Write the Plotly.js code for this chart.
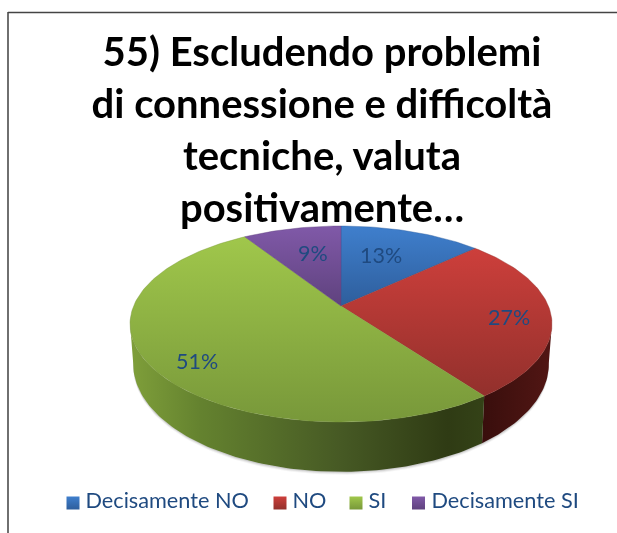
<!DOCTYPE html>
<html>
<head>
<meta charset="utf-8">
<script src="https://cdn.plot.ly/plotly-3.0.1.min.js"></script>
<style>html,body{margin:0;padding:0;background:#fff;overflow:hidden}#chart{width:617px;height:533px;filter:blur(0.4px)}</style>
</head>
<body>
<div id="chart"></div>
<script>
// ---- chart data ----
const categories = ["Decisamente NO", "NO", "SI", "Decisamente SI"];
const percentages = [13, 27, 51, 9];
const titleLines = ["55) Escludendo problemi", "di connessione e difficoltà", "tecniche, valuta", "positivamente…"];

// ---- styles ----
const topColors = [["#3f7fcd","#2e5e9c"],["#cd3f3b","#92302c"],["#a0c74b","#78983a"],["#8059a8","#5f427e"]];
const textColor = "#1f4a80";
const fontName = "Lato, Carlito, 'Open Sans', sans-serif";

// ---- geometry of the tilted disc (perspective projection) ----
const view = {cx:341, cy:324, rx:211, ry:98, apexDrop:18};
const persp = -view.apexDrop*2/(2*view.ry);
const depth = {shift:40, sx:0.985, sy:1.1};
function project(theta, r){
  const u=r*Math.sin(theta), v=-r*Math.cos(theta), w=1+persp*v;
  return [view.rx*Math.sqrt(1-persp*persp)*u/w, (view.ry*v-view.apexDrop)/w];
}
const topRim = t=>{const p=project(t,1);return [view.cx+p[0],view.cy+p[1]];};
const botRim = t=>{const p=project(t,1);return [view.cx+p[0]*depth.sx,view.cy+depth.shift+p[1]*depth.sy];};
const apex = ()=>[view.cx,view.cy-view.apexDrop];
const rad = d=>d*Math.PI/180;
function arc(fn,a,b,n){const o=[];for(let i=0;i<=n;i++)o.push(fn(a+(b-a)*i/n));return o;}
function poly(pts,extra){
  return Object.assign({type:"scatter",mode:"lines",x:pts.map(p=>p[0]),y:pts.map(p=>p[1]),fill:"toself",
    line:{width:0},hoverinfo:"skip",showlegend:false},extra);
}

const total = percentages.reduce((a,b)=>a+b,0);
let cum=0;
const bounds = percentages.map(v=>{const s=cum;cum+=v;return [s/total*2*Math.PI,cum/total*2*Math.PI];});

const traces=[];
// soft ground shadow
[[3,0.06],[2,0.09],[1,0.14]].forEach(([o,a])=>{
  const pts=arc(t=>{const p=botRim(t);return [p[0],p[1]+o];},rad(95),rad(265),120).concat(arc(topRim,rad(265),rad(95),60));
  traces.push(poly(pts,{fillcolor:`rgba(60,60,60,${a})`}));
});
// side wall: the visible part of the NO and SI slices
const redWall=bounds[1][1], leftEdge=rad(260), rightEdge=rad(100);
traces.push(poly(arc(topRim,rightEdge,redWall,40).concat(arc(botRim,redWall,rightEdge,40)),
  {fillcolor:"#3f1110",fillgradient:{type:"horizontal",start:480,stop:552,
    colorscale:[[0,"#380e0c"],[1,"#521614"]]}}));
traces.push(poly(arc(topRim,redWall,leftEdge,100).concat(arc(botRim,leftEdge,redWall,100)),
  {fillcolor:"#4c6025",fillgradient:{type:"horizontal",start:130,stop:483,
    colorscale:[[0,"#7f9f3a"],[0.2,"#64822f"],[0.6,"#465924"],[0.9,"#2f3b14"],[1,"#344217"]]}}));
// top face
percentages.forEach((v,i)=>{
  const pts=[apex()].concat(arc(topRim,bounds[i][0],bounds[i][1],Math.max(20,Math.round(v*3))));
  pts.push(apex());
  const ys=pts.map(p=>p[1]);
  traces.push(poly(pts,{name:categories[i],line:{width:0.4,color:topColors[i][1]},fillcolor:topColors[i][0],
    fillgradient:{type:"vertical",start:Math.min(...ys),stop:Math.max(...ys),
      colorscale:[[0,topColors[i][0]],[1,topColors[i][1]]]}}));
});
// legend row
const legendSwatchX=[73,280,356,418.5], legendTextX=[85.5,292.5,368.5,431.5], legendY=503;
categories.forEach((c,i)=>{
  traces.push({type:"scatter",mode:"markers",x:[legendSwatchX[i]],y:[legendY],hoverinfo:"skip",showlegend:false,cliponaxis:false,
    marker:{symbol:"square",size:13,color:topColors[i][0],line:{width:0},
      gradient:{type:"vertical",color:topColors[i][1]}}});
  traces.push({type:"scatter",mode:"text",x:[legendTextX[i]],y:[legendY],text:[c],textposition:"middle right",
    textfont:{family:fontName,size:21.7,color:textColor},hoverinfo:"skip",showlegend:false,cliponaxis:false});
});
// data labels
const labelAnchors=[[381,255],[509,317],[197,361],[313,253]];
const annotations=percentages.map((v,i)=>({xref:"x",yref:"y",x:labelAnchors[i][0],y:labelAnchors[i][1],text:v+"%",showarrow:false,
  font:{family:fontName,size:21.5,color:textColor},xanchor:"center",yanchor:"middle"}));

const layout={
  width:617,height:533,margin:{l:0,r:0,t:0,b:0},paper_bgcolor:"#fff",plot_bgcolor:"#fff",showlegend:false,
  title:{text:titleLines.join("<br>"),font:{family:fontName,size:40,color:"#000",weight:700},
    x:322/617,xanchor:"center",xref:"paper",y:1-66/533,yanchor:"top",yref:"paper"},
  xaxis:{range:[0,617],visible:false,fixedrange:true},
  yaxis:{range:[533,0],visible:false,fixedrange:true},
  annotations:annotations,
  shapes:[
    {type:"line",xref:"x",yref:"y",x0:8,x1:8,y0:12,y1:533,line:{color:"#222",width:1.3}},
    {type:"line",xref:"x",yref:"y",x0:8,x1:617,y0:12.5,y1:12.5,line:{color:"#444",width:1.3}}
  ]
};
Plotly.newPlot("chart",traces,layout,{displayModeBar:false,staticPlot:true});
</script>
</body>
</html>
